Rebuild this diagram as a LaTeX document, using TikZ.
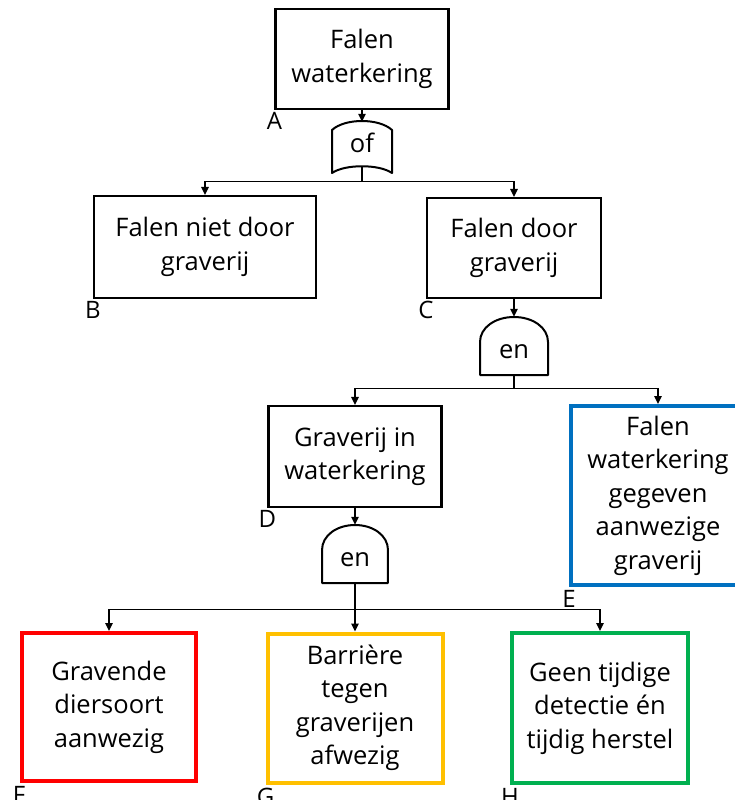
\documentclass[tikz,border=0pt]{standalone}
\usepackage{fontspec}
\setmainfont{Open Sans}
\usetikzlibrary{arrows.meta,calc}
\definecolor{eblue}{HTML}{0070C0}
\definecolor{fred}{HTML}{FF0000}
\definecolor{ggold}{HTML}{FFC000}
\definecolor{hgreen}{HTML}{00B050}
\begin{document}
\begin{tikzpicture}[x=1pt,y=-1pt,
  txtfont/.style={font=\fontsize{25.5}{33.5}\selectfont},
  box/.style={draw, rectangle, line width=2.2pt, align=center, inner sep=0pt, txtfont},
  cbox/.style={box, line width=4pt},
  lbl/.style={inner sep=0pt, anchor=north, font=\fontsize{24}{30}\selectfont},
  gatetxt/.style={inner sep=0pt, txtfont, text depth=0pt},
  gl/.style={line width=2pt, line join=round},
  conn/.style={line width=1.3pt, -{Triangle[length=8pt,width=7.5pt]}},
  pics/orshape/.style={code={\draw[gl] (-30,25.5) -- (-30,-17.5) .. controls (-17,-29.5) and (17,-29.5) .. (30,-17.5) -- (30,25.5) .. controls (17,16.5) and (-17,16.5) .. cycle;}},
  pics/andshape/.style={code={\draw[gl] (-34,29) -- (-34,-4) .. controls (-34,-18.5) and (-18.8,-29) .. (0,-29) .. controls (18.8,-29) and (34,-18.5) .. (34,-4) -- (34,29) -- cycle;}}
]
\clip (0,0) rectangle (735,800);

% boxes
\node[box, minimum width=173pt, minimum height=100pt] (a) at (362,59) {Falen\\waterkering};
\node[box, minimum width=222pt, minimum height=102pt] (b) at (205,247) {Falen niet door\\graverij};
\node[box, minimum width=174pt, minimum height=100pt] (c) at (514,248) {Falen door\\graverij};
\node[box, minimum width=173pt, minimum height=101pt] (d) at (355,456.5) {Graverij in\\waterkering};
\node[cbox, draw=eblue, minimum width=174pt, minimum height=179pt] (e) at (658,495.5) {Falen\\waterkering\\gegeven\\aanwezige\\graverij};
\node[cbox, draw=fred, minimum width=174pt, minimum height=148pt] (f) at (109,707) {Gravende\\diersoort\\aanwezig};
\node[cbox, draw=ggold, minimum width=175pt, minimum height=149pt] (g) at (355,708) {Barrière\\tegen\\graverijen\\afwezig};
\node[cbox, draw=hgreen, minimum width=176pt, minimum height=150pt] (h) at (600,708) {Geen tijdige\\detectie én\\tijdig herstel};

% labels
\node[lbl] (la) at ($(a.south west)+(0,2)$) {A};
\node[lbl] (lb) at ($(b.south west)+(0,2)$) {B};
\node[lbl] (lc) at ($(c.south west)+(0,2)$) {C};
\node[lbl] (ld) at ($(d.south west)+(0,2)$) {D};
\node[lbl] (le) at ($(e.south west)+(0,3)$) {E};
\node[lbl] (lf) at ($(f.south west)+(-1,3)$) {F};
\node[lbl] (lg) at ($(g.south west)+(0,3)$) {G};
\node[lbl] (lh) at ($(h.south west)+(0,3)$) {H};

% gates
\pic at (362,147.5) {orshape};
\node[gatetxt, minimum width=60pt, minimum height=51pt, text height=10pt] (g1) at (362,147.5) {of};
\pic at (514,346) {andshape};
\node[gatetxt, minimum width=68pt, minimum height=58pt, text height=25pt] (g2) at (514,346) {en};
\pic[xscale=0.97] at (355,554) {andshape};
\node[gatetxt, minimum width=66pt, minimum height=58pt, text height=25pt] (g3) at (355,554) {en};

% connectors
\draw[conn] (a.south) -- (g1.north);
\draw[conn] ($(g1.south)+(0,-7)$) -- ++(0,15) -| (b.north);
\draw[conn] ($(g1.south)+(0,-7)$) -- ++(0,15) -| (c.north);
\draw[conn] (c.south) -- (g2.north);
\draw[conn] (g2.south) -- ++(0,13) -| (d.north);
\draw[conn] (g2.south) -- ++(0,13) -| (e.north);
\draw[conn] (d.south) -- (g3.north);
\draw[conn] (g3.south) -- ++(0,26) -| (f.north);
\draw[conn] (g3.south) -- (g.north);
\draw[conn] (g3.south) -- ++(0,26) -| (h.north);
\end{tikzpicture}
\end{document}
